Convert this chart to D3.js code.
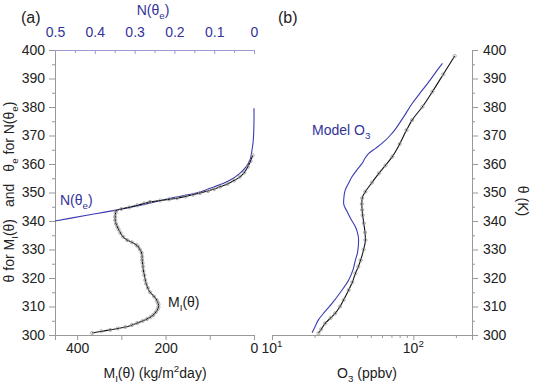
<!DOCTYPE html>
<html>
<head>
<meta charset="utf-8">
<script src="https://cdn.jsdelivr.net/npm/d3@7"></script>
<style>
  body { margin: 0; background: #fff; }
  svg { font-family: 'Liberation Sans', Arial, sans-serif; }
  .axis path, .axis line { stroke: #999; }
  .axis text { fill: #222; font-size: 14px; }
</style>
</head>
<body>
<svg id="chart" width="535" height="391"></svg>
<script>
// mass flux profile M_I(theta), [theta K, kg/m2/day]
let massFlux = [
  [300.7, 366], [301.3, 345], [301.8, 325], [302.3, 308], [302.8, 291], [303.5, 276],
  [304.2, 264], [304.9, 252], [305.6, 242], [306.3, 234], [307, 228], [308, 222],
  [309, 218], [309.8, 216], [310.8, 216], [311.5, 218], [312.3, 220], [313.5, 226],
  [315, 235], [316.5, 240], [318, 244], [319.3, 246], [321, 248], [322.5, 250],
  [324, 251], [325.3, 252], [326.3, 253], [327.5, 253], [328.8, 254], [330, 258],
  [331, 262], [331.6, 266], [332.5, 276], [333.3, 287], [334.5, 296], [335.8, 302],
  [337, 306], [337.9, 309], [339, 312], [340.3, 314], [341.5, 314], [342.8, 313],
  [343.5, 312], [344.2, 300], [344.8, 282], [345.5, 264], [346.2, 248], [346.7, 235],
  [347.2, 212], [347.6, 192], [348, 174], [348.6, 155], [349.2, 138], [349.8, 122],
  [350.5, 104], [351.2, 90], [352, 77], [353, 60], [354.2, 45], [355.5, 32],
  [357, 22], [359, 14], [361, 8], [363, 3]
]

// N(theta_e), [theta_e K, fraction]
let nTheta = [
  [340, 0.5], [342, 0.42], [343.9, 0.344], [346, 0.27], [348, 0.21], [349.8, 0.145],
  [351.5, 0.11], [353.3, 0.075], [355, 0.052], [356.8, 0.035], [359, 0.02],
  [361.4, 0.01], [364.9, 0.005], [368, 0.002], [372, 0.0005], [376, 0], [379.6, 0]
]

// observed O3, [theta K, ppbv]
let o3Obs = [
  [300.6, 21.3], [302, 22.3], [304.1, 23.8], [306, 26], [307.6, 28], [310, 30.3],
  [312.3, 32.1], [315.8, 34.9], [318.5, 37], [321.6, 38.9], [324, 40.8], [326.3, 42.4],
  [330, 44.5], [333.3, 45.8], [336, 45.5], [339.2, 44.6], [342, 43.8], [343.9, 43.4],
  [346, 43.2], [348, 43.4], [350.3, 45.8], [353.5, 51], [356.7, 57], [359.5, 63.5],
  [362.6, 71], [367, 80], [371.9, 89.5], [375.4, 98], [380.1, 116], [385.4, 136.5],
  [391.5, 163], [397.9, 196]
]

// model O3, [theta K, ppbv]
let o3Model = [
  [300.8, 19.2], [303, 20.2], [305.3, 21.3], [308, 23.5], [311.1, 26.6], [315, 30.5],
  [319.3, 34.9], [323, 37.5], [326.3, 38.9], [329, 40.3], [333.3, 41], [336, 40.2],
  [338, 38.9], [340.5, 36.3], [343.3, 34], [346.2, 32.1], [348.5, 32.3], [350.9, 33],
  [353, 34.6], [355.5, 36.8], [358, 40], [360.2, 43.4], [362, 45.5], [363.7, 48.4],
  [365.5, 54], [367.3, 60.2], [370, 68.5], [372, 74], [376, 84], [381.3, 98.4],
  [384.5, 110], [388.9, 129], [392, 143], [395.3, 160.7]
]

let thetaTicks = [300, 310, 320, 330, 340, 350, 360, 370, 380, 390, 400]
let thetaMinor = [305, 315, 325, 335, 345, 355, 365, 375, 385, 395]
let nTicks = [0.5, 0.4, 0.3, 0.2, 0.1, 0]
let nMinor = [0.45, 0.35, 0.25, 0.15, 0.05]
let mTicks = [400, 300, 200, 100, 0]
let mLabels = [400, 200, 0]
let o3Major = [10, 100]
let o3Minor = [20, 30, 40, 50, 60, 70, 80, 90, 200]

let blue = '#33339a'
let fs = 14

let svg = d3.select('#chart')

// scales
let yScale = d3.scaleLinear().domain([300, 400]).range([335, 50])
let xM = d3.scaleLinear().domain([450, 0]).range([55, 254])
let xN = d3.scaleLinear().domain([0.5, 0]).range([55, 254])
let xO3 = d3.scaleLog().domain([10, 260]).range([272, 472])

// helper for text with sub/superscripts
function rich(textSel, parts, size) {
  let shift = 0
  parts.forEach(p => {
    let str = p[0], mode = p[1] || 0
    let target = mode === -1 ? size * 0.3 : mode === 1 ? -size * 0.4 : 0
    let t = textSel.append('tspan').text(str)
      .attr('font-size', mode ? size * 0.7 : size)
    if (target - shift !== 0) t.attr('dy', target - shift)
    if (p[2]) t.attr('dx', p[2])
    shift = target
  })
  return textSel
}

// ---- panel (a) ----
let leftAxis = d3.axisLeft(yScale).tickValues(thetaTicks).tickSize(6).tickPadding(4)
svg.append('g').attr('class', 'axis').attr('transform', 'translate(55,0)').call(leftAxis)
svg.append('g').attr('class', 'axis').attr('transform', 'translate(55,0)')
  .call(d3.axisLeft(yScale).tickValues(thetaMinor).tickSize(3).tickFormat(''))

let topAxis = d3.axisTop(xN).tickValues(nTicks).tickSize(-4).tickPadding(13)
  .tickFormat(d => d === 0 ? '0' : d.toFixed(1))
let gTop = svg.append('g').attr('class', 'axis top').attr('transform', 'translate(0,50)').call(topAxis)
svg.append('g').attr('class', 'axis top').attr('transform', 'translate(0,50)')
  .call(d3.axisTop(xN).tickValues(nMinor).tickSize(-3).tickFormat(''))
svg.selectAll('.top path, .top line').style('stroke', '#9a9ad0')
gTop.selectAll('text').style('fill', blue)

let bottomA = d3.axisBottom(xM).tickValues(mTicks).tickSize(5).tickPadding(3)
  .tickFormat(d => mLabels.includes(d) ? d : '')
svg.append('g').attr('class', 'axis').attr('transform', 'translate(0,335)').call(bottomA)

// N(theta_e) line
let nLine = d3.line().x(d => xN(d[1])).y(d => yScale(d[0])).curve(d3.curveMonotoneY)
svg.append('path').datum(nTheta).attr('d', nLine)
  .attr('fill', 'none').attr('stroke', '#3a3ab0').attr('stroke-width', 1.1)

// mass flux line with markers
let mLine = d3.line().x(d => xM(d[1])).y(d => yScale(d[0])).curve(d3.curveMonotoneY)
svg.append('path').datum(massFlux).attr('d', mLine)
  .attr('fill', 'none').attr('stroke', '#111').attr('stroke-width', 1.1)
svg.append('g').selectAll('circle').data(massFlux).join('circle')
  .attr('cx', d => xM(d[1])).attr('cy', d => yScale(d[0])).attr('r', 1.6)
  .attr('fill', 'none').attr('stroke', '#999').attr('stroke-width', 0.8)

// ---- panel (b) ----
let rightAxis = d3.axisRight(yScale).tickValues(thetaTicks).tickSize(6).tickPadding(5)
svg.append('g').attr('class', 'axis').attr('transform', 'translate(472,0)').call(rightAxis)
svg.append('g').attr('class', 'axis').attr('transform', 'translate(472,0)')
  .call(d3.axisRight(yScale).tickValues(thetaMinor).tickSize(3).tickFormat(''))

svg.append('g').attr('class', 'axis').attr('transform', 'translate(0,335)')
  .call(d3.axisBottom(xO3).tickValues(o3Major).tickSize(5).tickFormat(''))
svg.append('g').attr('class', 'axis').attr('transform', 'translate(0,335)')
  .call(d3.axisBottom(xO3).tickValues(o3Minor).tickSize(3).tickFormat(''))
  .select('.domain').remove()
svg.selectAll('.logLabel').data(o3Major).join('text')
  .attr('class', 'logLabel')
  .attr('x', d => xO3(d)).attr('y', 353)
  .attr('text-anchor', 'middle').attr('fill', '#222')
  .each(function(d) {
    rich(d3.select(this), [['10'], [String(Math.round(Math.log10(d))), 1]], fs)
  })

let oLine = d3.line().x(d => xO3(d[1])).y(d => yScale(d[0])).curve(d3.curveMonotoneY)
svg.append('path').datum(o3Model).attr('d', oLine)
  .attr('fill', 'none').attr('stroke', '#3a3ab0').attr('stroke-width', 1.1)
svg.append('path').datum(o3Obs).attr('d', oLine)
  .attr('fill', 'none').attr('stroke', '#111').attr('stroke-width', 1.1)
svg.append('g').selectAll('circle').data(o3Obs).join('circle')
  .attr('cx', d => xO3(d[1])).attr('cy', d => yScale(d[0])).attr('r', 1.6)
  .attr('fill', 'none').attr('stroke', '#999').attr('stroke-width', 0.8)

// ---- labels ----
svg.append('text').attr('x', 21).attr('y', 23).attr('font-size', 16).attr('fill', '#222').text('(a)')
svg.append('text').attr('x', 278).attr('y', 23).attr('font-size', 16).attr('fill', '#222').text('(b)')

rich(svg.append('text').attr('x', 153).attr('y', 15).attr('text-anchor', 'middle').attr('fill', blue),
  [['N(θ'], ['e', -1], [')']], fs)

rich(svg.append('text').attr('x', 155).attr('y', 378).attr('text-anchor', 'middle').attr('fill', '#222'),
  [['M'], ['I', -1], ['(θ) (kg/m'], ['2', 1], ['day)']], fs)

rich(svg.append('text').attr('x', 367).attr('y', 378).attr('text-anchor', 'middle').attr('fill', '#222'),
  [['O'], ['3', -1], [' (ppbv)']], fs)

svg.append('text').attr('transform', 'translate(518,201) rotate(90)')
  .attr('text-anchor', 'middle').attr('font-size', fs).attr('fill', '#222').text('θ (K)')

rich(svg.append('text').attr('transform', 'translate(14,192) rotate(-90)')
  .attr('text-anchor', 'middle').attr('fill', '#222'),
  [['θ for M'], ['I', -1], ['(θ)'], ['and', 0, 12], ['θ', 0, 12], ['e', -1], [' for N(θ'], ['e', -1], [')']], fs)

rich(svg.append('text').attr('x', 168).attr('y', 307).attr('fill', '#222'),
  [['M'], ['I', -1], ['(θ)']], fs)

rich(svg.append('text').attr('x', 60).attr('y', 205).attr('fill', blue),
  [['N(θ'], ['e', -1], [')']], fs)

rich(svg.append('text').attr('x', 312).attr('y', 135).attr('fill', blue),
  [['Model O'], ['3', -1]], fs)
</script>
</body>
</html>
